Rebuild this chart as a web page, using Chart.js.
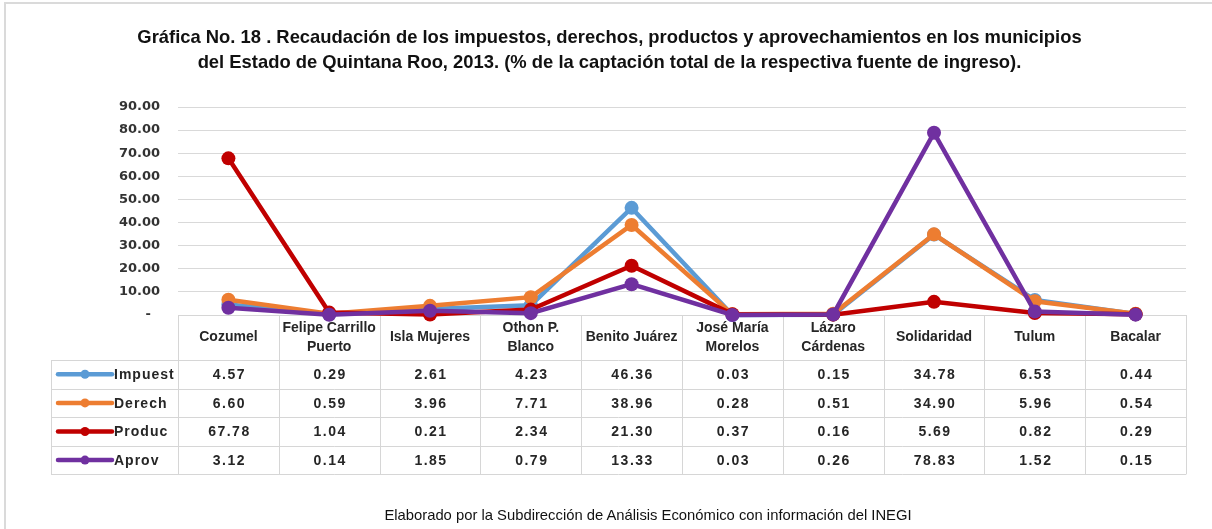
<!DOCTYPE html>
<html>
<head>
<meta charset="utf-8">
<script src="https://cdn.jsdelivr.net/npm/chart.js@4.4.1/dist/chart.umd.min.js"></script>
<style>
html,body{margin:0;padding:0;background:#fff;}
#wrap{position:relative;width:1212px;height:529px;overflow:hidden;background:#fff;}
#frame{position:absolute;left:4px;top:2px;width:1220px;height:540px;border-left:2px solid #dadada;border-top:2px solid #dadada;box-sizing:border-box;}
#title{position:absolute;left:0;top:24px;width:1219px;text-align:center;font-family:"Liberation Sans",Arial,sans-serif;font-weight:bold;font-size:18.4px;line-height:25px;color:#111;}
#footer{position:absolute;left:0;top:507px;width:1296px;text-align:center;font-family:"Liberation Sans",Arial,sans-serif;font-size:14.8px;color:#111;}
#c{position:absolute;left:0;top:0;}
</style>
</head>
<body>
<div id="wrap">
  <div id="frame"></div>
  <canvas id="c" width="1212" height="529"></canvas>
  <div id="title">Gráfica No. 18 . Recaudación de los impuestos, derechos, productos y aprovechamientos en los municipios<br>del Estado de Quintana Roo, 2013. (% de la captación total de la respectiva fuente de ingreso).</div>
  <div id="footer">Elaborado por la Subdirección de Análisis Económico con información del INEGI</div>
</div>
<script>
// ---- data ----
const categories = ['Cozumel', ['Felipe Carrillo', 'Puerto'], 'Isla Mujeres', ['Othon P.', 'Blanco'], 'Benito Juárez', ['José María', 'Morelos'], ['Lázaro', 'Cárdenas'], 'Solidaridad', 'Tulum', 'Bacalar'];
const seriesNames = ['Impuest', 'Derech', 'Produc', 'Aprov'];
const impuest = [4.57, 0.29, 2.61, 4.23, 46.36, 0.03, 0.15, 34.78, 6.53, 0.44];
const derech  = [6.60, 0.59, 3.96, 7.71, 38.96, 0.28, 0.51, 34.90, 5.96, 0.54];
const produc  = [67.78, 1.04, 0.21, 2.34, 21.30, 0.37, 0.16, 5.69, 0.82, 0.29];
const aprov   = [3.12, 0.14, 1.85, 0.79, 13.33, 0.03, 0.26, 78.83, 1.52, 0.15];
const yTickValues = [0, 10, 20, 30, 40, 50, 60, 70, 80, 90];

const seriesValues = [impuest, derech, produc, aprov];
const colors = ['#5B9BD5', '#ED7D31', '#C00000', '#7030A0'];

function fmtTick(v) { return v === 0 ? '-  ' : v.toFixed(2); }

const tablePlugin = {
  id: 'dataTable',
  beforeDatasetsDraw(chart) {
    const ctx = chart.ctx;
    const area = chart.chartArea;
    const xs = chart.scales.x;
    const top = area.bottom;
    const headerH = 45, rowH = 28.6;
    const tableLeft = 51;
    const n = categories.length;
    const colW = (area.right - area.left) / n;
    const bottom = top + headerH + rowH * seriesNames.length;
    ctx.save();
    ctx.strokeStyle = '#d6d6d6';
    ctx.lineWidth = 1;
    ctx.beginPath();
    ctx.moveTo(area.left, Math.round(top) + 0.5);
    ctx.lineTo(area.right, Math.round(top) + 0.5);
    for (let r = 0; r <= seriesNames.length; r++) {
      const y = Math.round(top + headerH + r * rowH) + 0.5;
      ctx.moveTo(tableLeft, y);
      ctx.lineTo(area.right, y);
    }
    for (let i = 0; i <= n; i++) {
      const x = Math.round(area.left + i * colW) + 0.5;
      ctx.moveTo(x, top);
      ctx.lineTo(x, bottom);
    }
    ctx.moveTo(tableLeft + 0.5, top + headerH);
    ctx.lineTo(tableLeft + 0.5, bottom);
    ctx.stroke();

    // header
    ctx.fillStyle = '#262626';
    ctx.textAlign = 'center';
    ctx.textBaseline = 'middle';
    ctx.font = 'bold 14px "Liberation Sans", Arial, sans-serif';
    categories.forEach((c, i) => {
      const cx = xs.getPixelForValue(i);
      const lines = Array.isArray(c) ? c : [c];
      const lh = 19;
      const y0 = top + headerH / 2 - (lines.length - 1) * lh / 2;
      lines.forEach((l, k) => ctx.fillText(l, cx, y0 + k * lh));
    });
    // values
    ctx.letterSpacing = '1.5px';
    seriesValues.forEach((vals, r) => {
      const cy = top + headerH + rowH * r + rowH / 2 + 1;
      vals.forEach((v, i) => {
        ctx.fillText(v.toFixed(2), xs.getPixelForValue(i) + 1, cy);
      });
      // legend key
      ctx.strokeStyle = colors[r];
      ctx.lineWidth = 4.5;
      ctx.lineCap = 'round';
      ctx.beginPath();
      ctx.moveTo(58, cy - 1);
      ctx.lineTo(112, cy - 1);
      ctx.stroke();
      ctx.fillStyle = colors[r];
      ctx.beginPath();
      ctx.arc(85, cy - 1, 4.5, 0, Math.PI * 2);
      ctx.fill();
      ctx.fillStyle = '#262626';
      ctx.textAlign = 'left';
      ctx.letterSpacing = '1px';
      ctx.fillText(seriesNames[r], 114, cy);
      ctx.textAlign = 'center';
      ctx.letterSpacing = '1.5px';
    });
    ctx.restore();
  }
};

new Chart(document.getElementById('c'), {
  type: 'line',
  data: {
    labels: categories,
    datasets: seriesNames.map((name, i) => ({
      label: name,
      data: seriesValues[i],
      borderColor: colors[i],
      backgroundColor: colors[i],
      pointBackgroundColor: colors[i],
      pointBorderColor: colors[i],
      pointBorderWidth: 0,
      pointRadius: 7,
      borderWidth: 4.5,
      tension: 0,
      clip: false,
      order: seriesNames.length - i
    }))
  },
  options: {
    responsive: false,
    animation: false,
    devicePixelRatio: 1,
    layout: { padding: { top: 107, right: 26, bottom: 214, left: 0 } },
    plugins: { legend: { display: false }, tooltip: { enabled: false }, title: { display: false } },
    scales: {
      x: { type: 'category', display: false, offset: true },
      y: {
        min: 0, max: 90,
        afterFit(scale) { scale.width = 178; },
        afterBuildTicks(scale) { scale.ticks = yTickValues.map(v => ({ value: v })); },
        border: { display: false },
        grid: { color: '#d9d9d9', lineWidth: 1, drawTicks: false },
        ticks: {
          padding: 18,
          color: '#333',
          font: { family: '"DejaVu Sans", sans-serif', weight: 'bold', size: 13 },
          callback: (v) => fmtTick(v)
        }
      }
    }
  },
  plugins: [tablePlugin]
});
</script>
</body>
</html>
